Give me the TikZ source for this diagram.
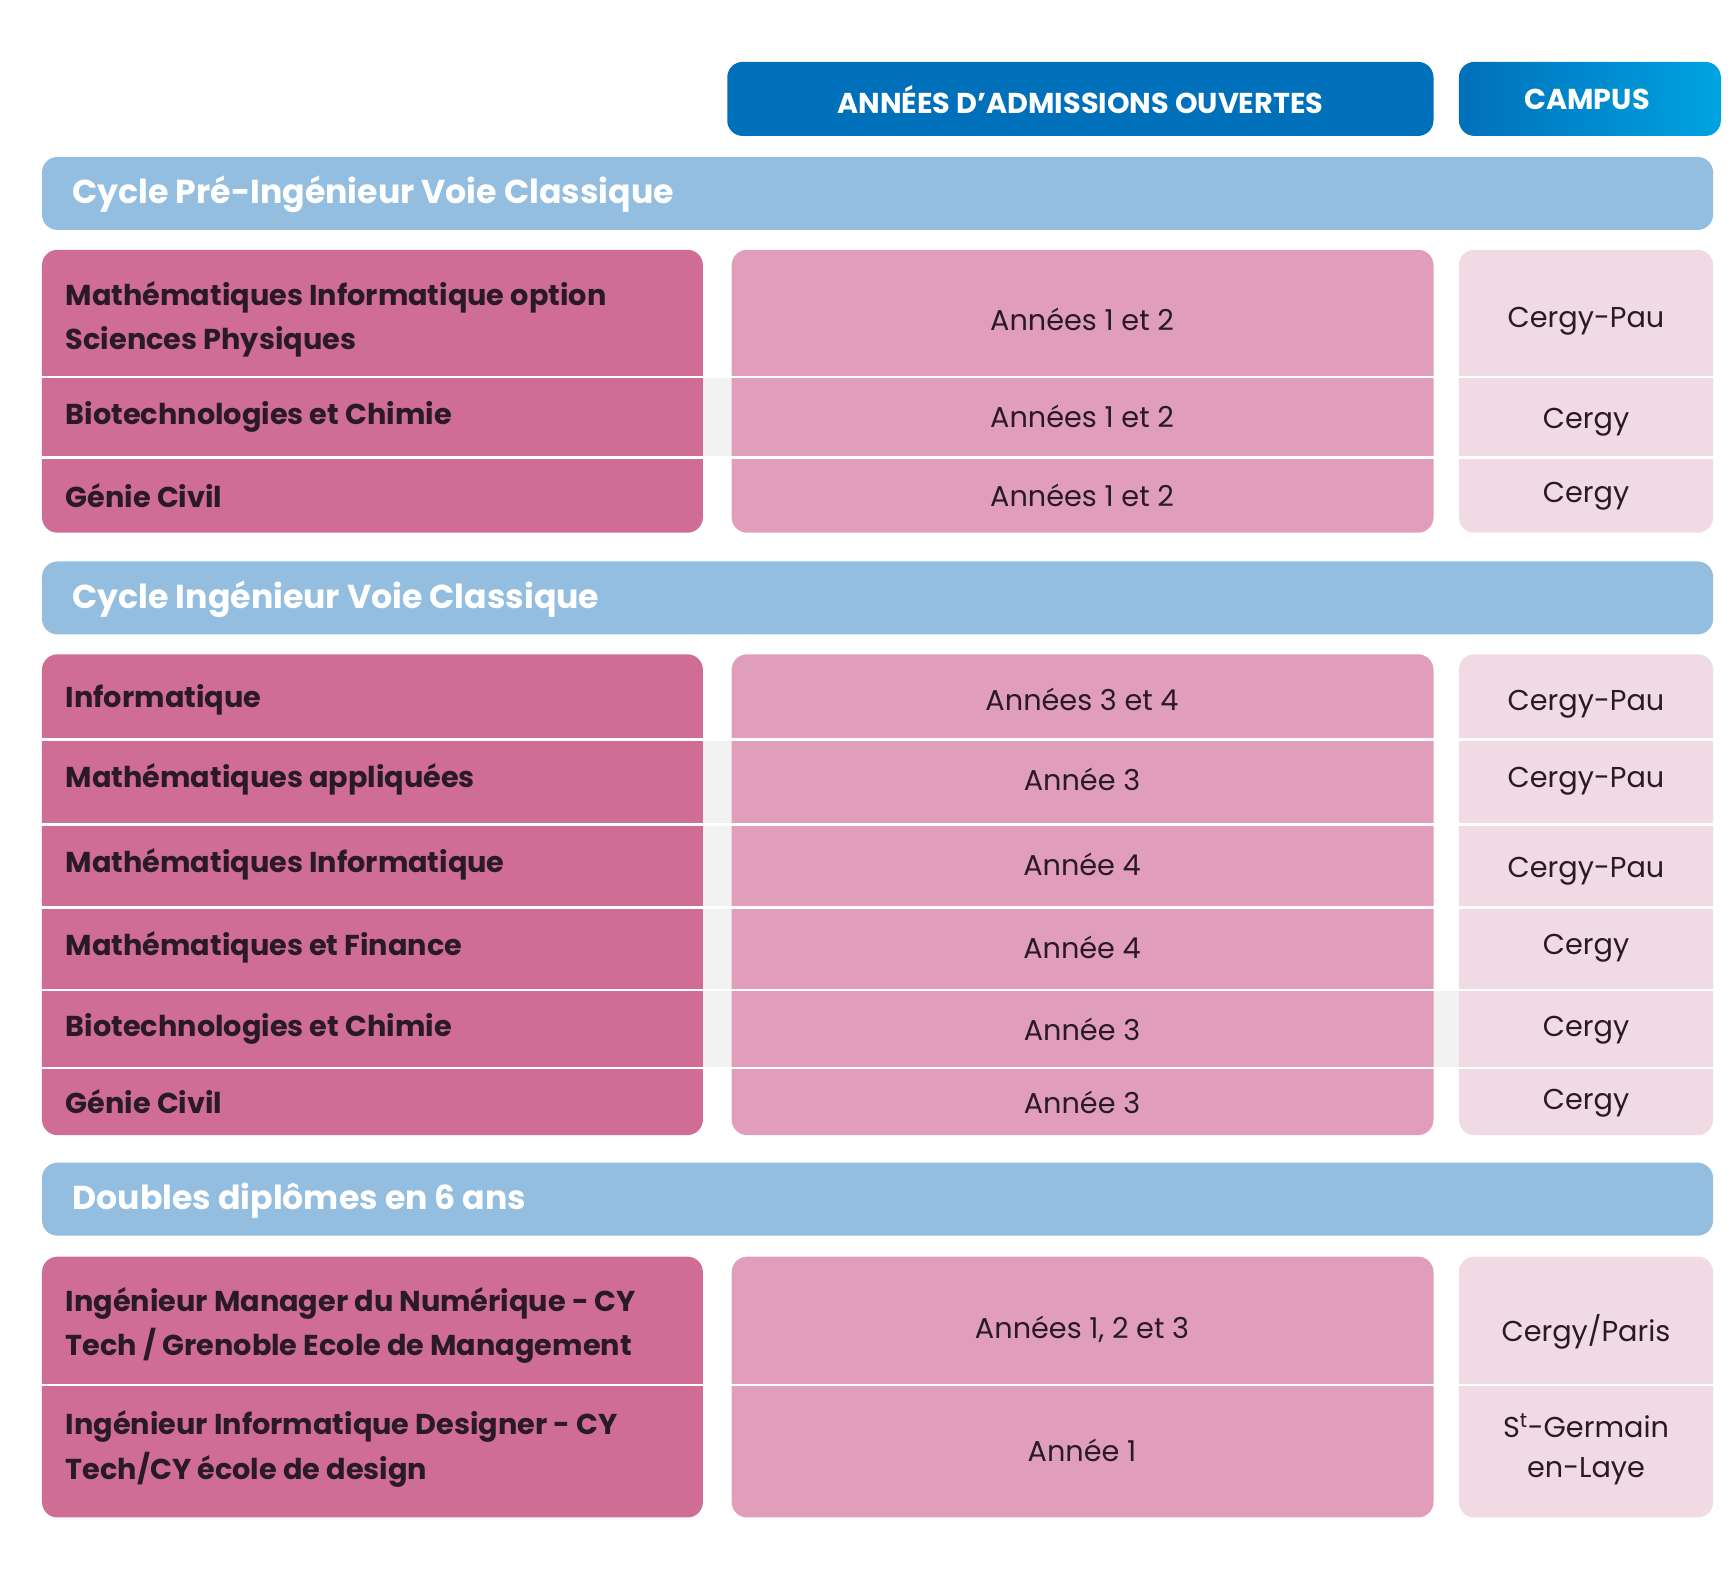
\documentclass[tikz,border=0pt]{standalone}
\usepackage{fontspec}
\setmainfont{Poppins}
\newfontfamily\boldf{Poppins SemiBold}
\definecolor{hdr}{HTML}{0070BA}
\definecolor{cyan2}{HTML}{00A3E0}
\definecolor{sec}{HTML}{93BEE0}
\definecolor{lcol}{HTML}{CF6D95}
\definecolor{mcol}{HTML}{E09EBA}
\definecolor{rcol}{HTML}{F0DAE3}
\definecolor{gapc}{HTML}{F2F2F2}
\definecolor{txt}{HTML}{2A1A25}
\begin{document}
\begin{tikzpicture}[x=1pt,y=-1pt,
  sbar/.style={fill=sec,rounded corners=14pt},
  lbl/.style={anchor=west,text=txt,font=\fontsize{26}{40}\selectfont\bfseries,align=left},
  mid/.style={text=txt,font=\fontsize{26}{36}\selectfont,align=center},
  sectxt/.style={anchor=west,text=white,font=\fontsize{30}{36}\selectfont\bfseries},
  hdrtxt/.style={text=white,font=\fontsize{26}{32}\selectfont\bfseries},
  sep/.style={white,line width=2pt}]
\useasboundingbox (0,0) rectangle (1568,1431);
% header
\fill[hdr,rounded corners=14pt] (658,56) rectangle (1297,123);
\node[hdrtxt] (h1) at (977.5,90) {ANNÉES D’ADMISSIONS OUVERTES};
\shade[left color=hdr,right color=cyan2,rounded corners=14pt] (1320,56) rectangle (1557,123);
\node[hdrtxt] (h2) at (1436,90) {CAMPUS};
% section bars
\fill[sbar] (38,142) rectangle (1550,208);
\node[sectxt] (s1) at (62,176) {Cycle Pré-Ingénieur Voie Classique};
\fill[sbar] (38,508) rectangle (1550,574);
\node[sectxt] (s2) at (62,542) {Cycle Ingénieur Voie Classique};
\fill[sbar] (38,1052) rectangle (1550,1118);
\node[sectxt] (s3) at (62,1086) {Doubles diplômes en 6 ans};
% gray gaps
\fill[gapc] (630,341) rectangle (668,414);
\fill[gapc] (630,669) rectangle (668,966);
\fill[gapc] (1290,896) rectangle (1326,966);
% blocks section 1
\fill[lcol,rounded corners=14pt] (38,226) rectangle (636,482);
\fill[mcol,rounded corners=14pt] (662,226) rectangle (1297,482);
\fill[rcol,rounded corners=14pt] (1320,226) rectangle (1550,482);
\foreach \yy in {341,414} \draw[sep] (38,\yy) -- (1550,\yy);
% section 2
\fill[lcol,rounded corners=14pt] (38,592) rectangle (636,1027);
\fill[mcol,rounded corners=14pt] (662,592) rectangle (1297,1027);
\fill[rcol,rounded corners=14pt] (1320,592) rectangle (1550,1027);
\foreach \yy in {669,746,821,896,966} \draw[sep] (38,\yy) -- (1550,\yy);
% section 3
\fill[lcol,rounded corners=14pt] (38,1137) rectangle (636,1373);
\fill[mcol,rounded corners=14pt] (662,1137) rectangle (1297,1373);
\fill[rcol,rounded corners=14pt] (1320,1137) rectangle (1550,1373);
\draw[sep] (38,1253) -- (1550,1253);
% texts section 1
\node[lbl] (a1) at (56,289) {Mathématiques Informatique option\\Sciences Physiques};
\node[mid] (b1) at (979,289) {Années 1 et 2};
\node[mid] (c1) at (1435,291) {Cergy-Pau};
\node[lbl] (a2) at (56,377) {Biotechnologies et Chimie};
\node[mid] (b2) at (979,377) {Années 1 et 2};
\node[mid] (c2) at (1435,382) {Cergy};
\node[lbl] (a3) at (56,448) {Génie Civil};
\node[mid] (b3) at (979,448) {Années 1 et 2};
\node[mid] (c3) at (1435,449) {Cergy};
% section 2
\node[lbl] (d1) at (56,633) {Informatique};
\node[mid] (e1) at (979,633) {Années 3 et 4};
\node[mid] (f1) at (1435,637) {Cergy-Pau};
\node[lbl] (d2) at (56,705) {Mathématiques appliquées};
\node[mid] (e2) at (979,705) {Année 3};
\node[mid] (f2) at (1435,707) {Cergy-Pau};
\node[lbl] (d3) at (56,782) {Mathématiques Informatique};
\node[mid] (e3) at (979,782) {Année 4};
\node[mid] (f3) at (1435,788) {Cergy-Pau};
\node[lbl] (d4) at (56,857) {Mathématiques et Finance};
\node[mid] (e4) at (979,857) {Année 4};
\node[mid] (f4) at (1435,858) {Cergy};
\node[lbl] (d5) at (56,931) {Biotechnologies et Chimie};
\node[mid] (e5) at (979,931) {Année 3};
\node[mid] (f5) at (1435,932) {Cergy};
\node[lbl] (d6) at (56,997) {Génie Civil};
\node[mid] (e6) at (979,997) {Année 3};
\node[mid] (f6) at (1435,998) {Cergy};
% section 3
\node[lbl] (g1) at (56,1199) {Ingénieur Manager du Numérique - CY\\Tech / Grenoble Ecole de Management};
\node[mid] (h31) at (979,1203) {Années 1, 2 et 3};
\node[mid] (i1) at (1435,1205) {Cergy/Paris};
\node[lbl] (g2) at (56,1311) {Ingénieur Informatique Designer - CY\\Tech/CY école de design};
\node[mid] (h32) at (979,1312) {Année 1};
\node[mid] (i2) at (1435,1311) {S\textsuperscript{t}-Germain\\en-Laye};
\end{tikzpicture}
\end{document}
